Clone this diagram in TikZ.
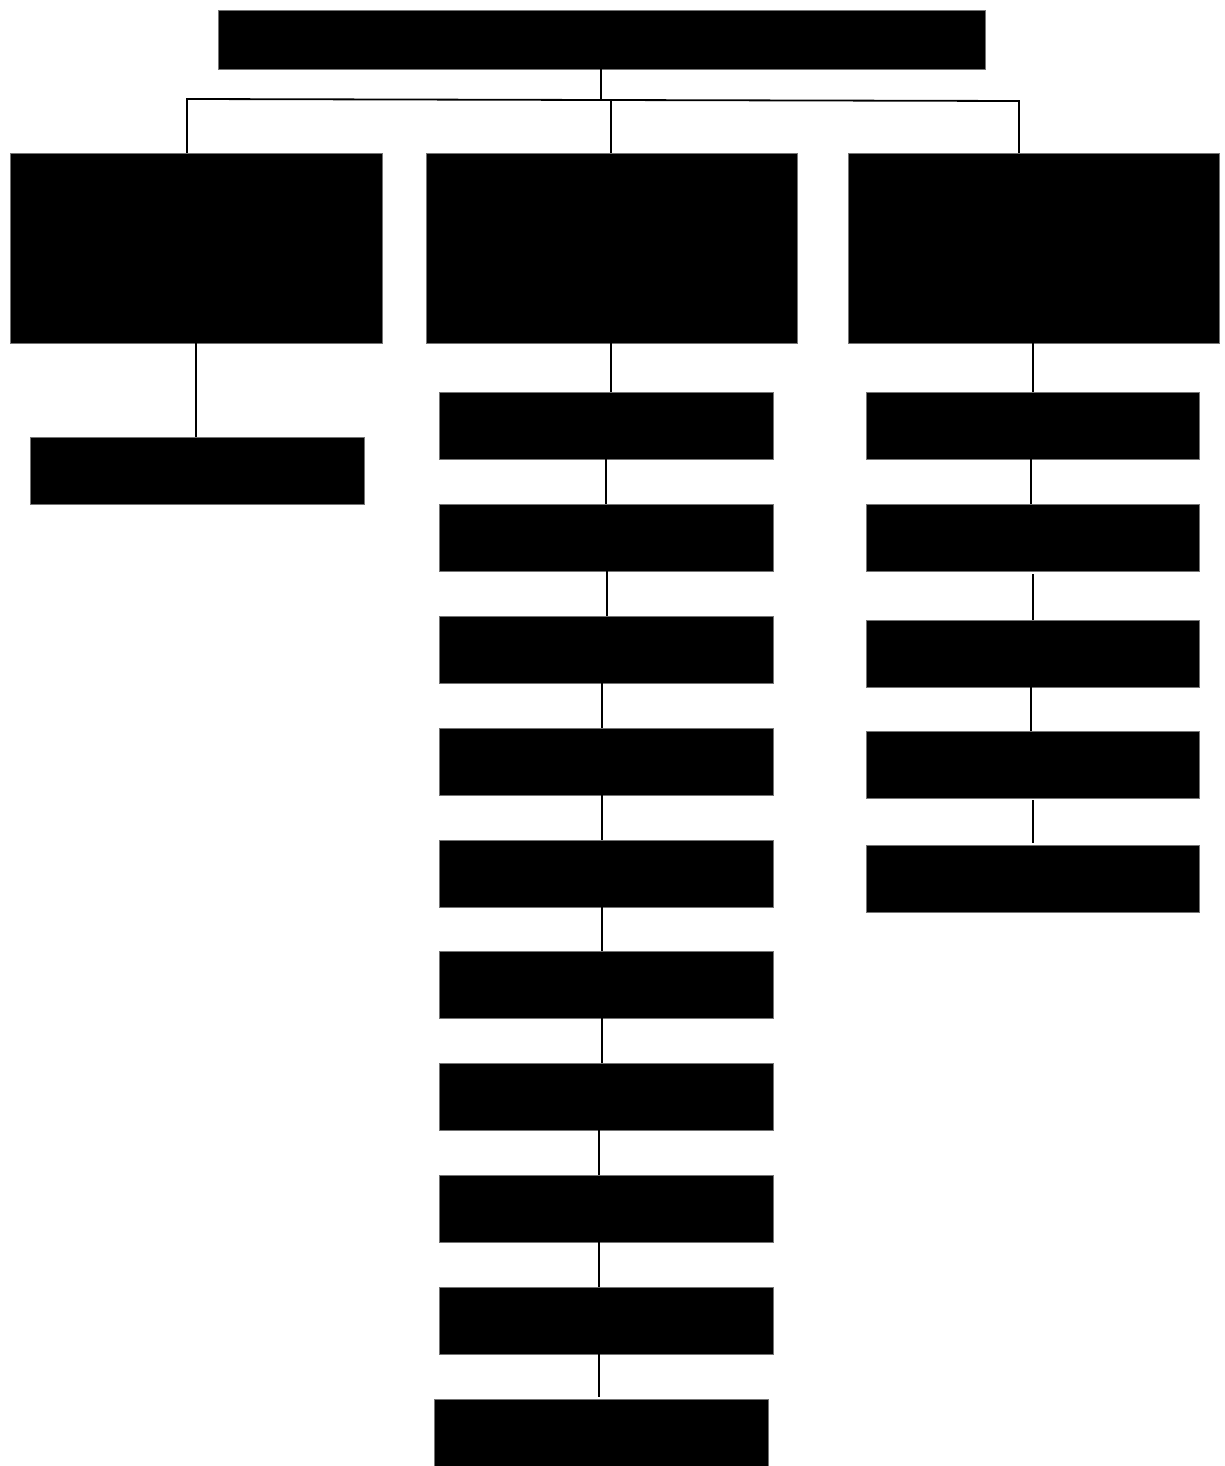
\documentclass[tikz,border=0pt]{standalone}
\begin{document}
\begin{tikzpicture}[x=1pt,y=-1pt,
  blk/.style={fill=black,draw=black!55,line width=0.8pt,inner sep=0pt,outer sep=0pt,anchor=north west},
  link/.style={draw=black,line width=1.8pt}]
\useasboundingbox (0,0) rectangle (1225,1466);
% top
\node[blk,minimum width=767,minimum height=59] (top) at (218,10) {};
% level 1
\node[blk,minimum width=372,minimum height=190] (l1) at (10,153) {};
\node[blk,minimum width=371,minimum height=190] (m1) at (426,153) {};
\node[blk,minimum width=371,minimum height=190] (r1) at (848,153) {};
% left child
\node[blk,minimum width=334,minimum height=67] (l2) at (30,437) {};
% middle column
\node[blk,minimum width=334,minimum height=67] (m2) at (439,392) {};
\node[blk,minimum width=334,minimum height=67] (m3) at (439,504) {};
\node[blk,minimum width=334,minimum height=67] (m4) at (439,616) {};
\node[blk,minimum width=334,minimum height=67] (m5) at (439,728) {};
\node[blk,minimum width=334,minimum height=67] (m6) at (439,840) {};
\node[blk,minimum width=334,minimum height=67] (m7) at (439,951) {};
\node[blk,minimum width=334,minimum height=67] (m8) at (439,1063) {};
\node[blk,minimum width=334,minimum height=67] (m9) at (439,1175) {};
\node[blk,minimum width=334,minimum height=67] (m10) at (439,1287) {};
\node[blk,minimum width=334,minimum height=67] (m11) at (434,1399) {};
% right column
\node[blk,minimum width=333,minimum height=67] (r2) at (866,392) {};
\node[blk,minimum width=333,minimum height=67] (r3) at (866,504) {};
\node[blk,minimum width=333,minimum height=67] (r4) at (866,620) {};
\node[blk,minimum width=333,minimum height=67] (r5) at (866,731) {};
\node[blk,minimum width=333,minimum height=67] (r6) at (866,845) {};
% bus
\coordinate (bt) at (601,99);
\coordinate (bl) at (187,99);
\coordinate (bm) at (611,100);
\coordinate (br) at (1019,101);
\draw[link] (top.south -| bt) -- (bt);
\draw[link] (l1.north -| bl) -- (bl) -- (br) -- (r1.north -| br);
\draw[link] (bm) -- (m1.north -| bm);
% left
\coordinate (xl) at (196,0);
\draw[link] (l1.south -| xl) -- (l2.north -| xl);
% middle chain
\coordinate (xm1) at (611,0);
\coordinate (xm2) at (606,0);
\coordinate (xm3) at (607,0);
\coordinate (xm4) at (602,0);
\coordinate (xm5) at (599,0);
\draw[link] (m1.south -| xm1) -- (m2.north -| xm1);
\draw[link] (m2.south -| xm2) -- (m3.north -| xm2);
\draw[link] (m3.south -| xm3) -- (m4.north -| xm3);
\draw[link] (m4.south -| xm4) -- (m5.north -| xm4);
\draw[link] (m5.south -| xm4) -- (m6.north -| xm4);
\draw[link] (m6.south -| xm4) -- (m7.north -| xm4);
\draw[link] (m7.south -| xm4) -- (m8.north -| xm4);
\draw[link] (m8.south -| xm5) -- (m9.north -| xm5);
\draw[link] (m9.south -| xm5) -- (m10.north -| xm5);
\draw[link,shorten >=2] (m10.south -| xm5) -- (m11.north -| xm5);
% right chain
\coordinate (xr1) at (1033,0);
\coordinate (xr2) at (1031,0);
\draw[link] (r1.south -| xr1) -- (r2.north -| xr1);
\draw[link] (r2.south -| xr2) -- (r3.north -| xr2);
\draw[link,shorten <=3] (r3.south -| xr1) -- (r4.north -| xr1);
\draw[link] (r4.south -| xr2) -- (r5.north -| xr2);
\draw[link,shorten <=2,shorten >=2] (r5.south -| xr1) -- (r6.north -| xr1);
\end{tikzpicture}
\end{document}
